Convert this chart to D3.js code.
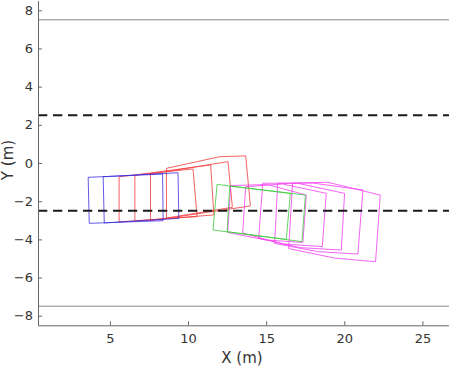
<!DOCTYPE html>
<html>
<head>
<meta charset="utf-8">
<script src="https://cdn.jsdelivr.net/npm/d3@7"></script>
<style>
  body { margin: 0; background: #fff; }
  svg text { font-family: "DejaVu Sans", sans-serif; fill: #333; }
</style>
</head>
<body>
<div id="viz"></div>
<script>
// lane lines (m)
const laneBorders = [7.5, -7.5];
const laneMarkings = [2.5, -2.5];

const xTicks = [5, 10, 15, 20, 25];
const yTicks = [-8, -6, -4, -2, 0, 2, 4, 6, 8];

// occupancy outlines, vertices in metres
const blueBoxes = [
  [[3.61, -0.75], [8.37, -0.58], [8.41, -3.02], [3.68, -3.16]],
  [[4.57, -0.72], [9.36, -0.51], [9.41, -2.90], [4.64, -3.14]]
];
const redBoxes = [
  [[5.59, -0.72], [10.32, -0.31], [10.58, -2.81], [5.59, -3.08]],
  [[6.60, -0.63], [11.45, -0.10], [11.65, -2.72], [6.60, -3.04]],
  [[7.60, -0.58], [12.56, 0.07], [12.84, -2.32], [7.60, -3.02]],
  [[8.62, -0.28], [12.03, 0.33], [13.69, 0.37], [13.99, -2.25], [8.62, -2.90]]
];
const greenBoxes = [
  [[11.86, -1.12], [16.55, -1.59], [16.29, -4.00], [11.60, -3.51]],
  [[12.67, -1.21], [17.51, -1.68], [17.29, -4.12], [12.50, -3.60]]
];
const magentaBoxes = [
  [[12.73, -1.18], [15.10, -1.13], [17.57, -1.68], [17.35, -4.16], [14.97, -4.03], [12.54, -3.64]],
  [[13.69, -1.24], [16.06, -1.10], [18.85, -1.59], [18.59, -4.38], [16.06, -4.24], [13.50, -3.67]],
  [[14.78, -1.06], [17.01, -1.06], [20.02, -1.59], [19.81, -4.56], [17.14, -4.43], [14.52, -3.94]],
  [[15.74, -1.06], [17.99, -1.05], [21.19, -1.41], [20.87, -4.77], [18.29, -4.64], [15.54, -4.21]],
  [[16.69, -1.05], [18.95, -1.01], [22.30, -1.68], [22.00, -5.17], [19.38, -4.98], [16.44, -4.48]]
];

let width = 449, height = 366;
let plot = { left: 38, right: 449, top: 0.7, bottom: 325.3 };

let svg = d3.select('#viz').append('svg')
  .attr('width', width)
  .attr('height', height);

let x = d3.scaleLinear().domain([0.4, 26.7]).range([plot.left, plot.right]);
let y = d3.scaleLinear().domain([-8.5, 8.5]).range([plot.bottom, plot.top]);

// solid road borders
svg.selectAll('line.border')
  .data(laneBorders)
  .enter().append('line')
  .attr('class', 'border')
  .attr('x1', plot.left).attr('x2', plot.right)
  .attr('y1', d => y(d)).attr('y2', d => y(d))
  .attr('stroke', '#888')
  .attr('stroke-width', 1);

let line = d3.line().x(d => x(d[0])).y(d => y(d[1]));

function drawBoxes(boxes, color) {
  svg.append('g')
    .selectAll('path')
    .data(boxes)
    .enter().append('path')
    .attr('d', d => line(d) + 'Z')
    .attr('fill', 'none')
    .attr('stroke', color)
    .attr('stroke-width', 0.8)
    .attr('stroke-linejoin', 'round');
}

drawBoxes(redBoxes, '#f23a3a');
drawBoxes(blueBoxes, '#3c2ee0');
drawBoxes(magentaBoxes, '#f23cf2');
drawBoxes(greenBoxes, '#3ccc3c');

// dashed lane markings
svg.selectAll('line.marking')
  .data(laneMarkings)
  .enter().append('line')
  .attr('class', 'marking')
  .attr('x1', plot.left).attr('x2', plot.right)
  .attr('y1', d => y(d)).attr('y2', d => y(d))
  .attr('stroke', '#1a1a1a')
  .attr('stroke-width', 2)
  .attr('stroke-dasharray', '9.3,5.7');

// axes
let xAxis = d3.axisBottom(x).tickValues(xTicks).tickSizeInner(-4).tickSizeOuter(0).tickPadding(8.5);
let yAxis = d3.axisLeft(y).tickValues(yTicks).tickSizeInner(-4).tickSizeOuter(0).tickPadding(5);

let gx = svg.append('g')
  .attr('transform', `translate(0,${plot.bottom})`)
  .call(xAxis);
let gy = svg.append('g')
  .attr('transform', `translate(${plot.left},0)`)
  .call(yAxis);

[gx, gy].forEach(g => {
  g.select('.domain').attr('stroke', '#666');
  g.selectAll('.tick line').attr('stroke', '#666');
  g.selectAll('.tick text')
    .style('font-family', '"DejaVu Sans", sans-serif')
    .style('font-size', '13px')
    .attr('fill', '#333');
});

svg.append('text')
  .text('X (m)')
  .attr('x', 242)
  .attr('y', 363)
  .attr('text-anchor', 'middle')
  .style('font-size', '15px');

svg.append('text')
  .text('Y (m)')
  .attr('transform', 'translate(13,160) rotate(-90)')
  .attr('text-anchor', 'middle')
  .style('font-size', '15px');
</script>
</body>
</html>
